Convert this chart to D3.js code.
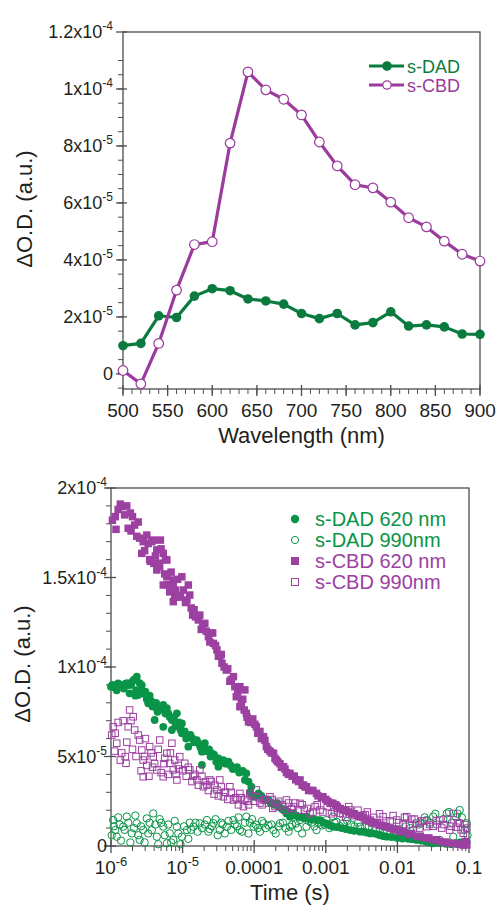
<!DOCTYPE html>
<html>
<head>
<meta charset="utf-8">
<script src="https://cdn.jsdelivr.net/npm/d3@7"></script>
<style>
  html, body { margin: 0; padding: 0; background: #fff; }
  svg { display: block; }
  text { font-family: "Liberation Sans", Arial, sans-serif; fill: #231f20; }
</style>
</head>
<body>
<svg id="chart" width="498" height="906"></svg>
<script>
// ---------------- DATA ----------------
// Top panel: transient spectra
const wavelengths = [500, 520, 540, 560, 580, 600, 620, 640, 660, 680, 700, 720, 740, 760, 780, 800, 820, 840, 860, 880, 900];
// values in units of 1e-6 (ΔO.D.)
const sDAD = [9.9, 10.7, 20.4, 19.8, 27.3, 29.9, 29.2, 26.3, 25.6, 24.5, 21.2, 19.4, 21.2, 17.2, 18.0, 21.8, 16.8, 17.2, 16.5, 14.0, 13.9];
const sCBD = [1.2, -3.5, 10.7, 29.4, 45.4, 46.4, 81.0, 106.0, 99.7, 96.4, 90.9, 81.4, 73.0, 66.4, 65.3, 60.3, 54.8, 51.6, 46.6, 42.0, 39.6];
const topSeriesNames = ["s-DAD", "s-CBD"];
const topYTicks = [0, 2e-5, 4e-5, 6e-5, 8e-5, 1e-4, 1.2e-4];
const topYTickLabels = [["0", ""], ["2x10", "-5"], ["4x10", "-5"], ["6x10", "-5"], ["8x10", "-5"], ["1x10", "-4"], ["1.2x10", "-4"]];
const topXTicks = [500, 550, 600, 650, 700, 750, 800, 850, 900];

// Bottom panel: kinetics, pairs of [log10(time / s), ΔO.D. in units of 1e-5]
const dad620 = [[-6.00,8.90],[-5.95,8.85],[-5.90,9.09],[-5.85,8.95],[-5.80,9.05],[-5.76,8.99],[-5.70,9.20],[-5.64,9.46],[-5.60,9.10],[-5.57,8.99],[-5.74,8.53],[-5.66,8.40],[-5.62,8.44],[-5.52,8.62],[-5.48,7.97],[-5.44,8.10],[-5.39,7.78],[-5.33,7.60],[-5.27,7.88],[-5.20,7.41],[-5.39,7.04],[-5.15,7.04],[-5.08,7.41],[-5.01,6.85],[-5.27,6.66],[-5.15,6.48],[-5.01,6.30],[-4.92,6.11],[-4.86,6.00],[-4.80,5.92],[-4.69,5.74],[-4.92,5.55],[-4.73,5.27],[-4.66,5.30],[-4.59,5.18],[-4.50,4.90],[-4.43,4.80],[-4.36,4.71],[-4.73,4.53],[-4.50,4.43],[-4.27,4.34],[-4.18,4.15],[-4.11,4.06],[-4.13,3.69],[-4.04,3.31],[-4.01,2.75],[-3.94,2.94],[-3.83,2.57],[-3.80,2.57],[-3.66,2.20],[-3.59,2.01],[-3.55,1.82],[-3.50,1.64],[-3.45,1.82],[-3.38,1.64],[-3.27,1.64],[-3.17,1.50],[-3.08,1.45],[-2.98,1.25],[-2.90,1.08],[-2.78,1.00],[-2.66,0.89],[-2.52,0.80],[-2.43,0.75],[-2.34,0.71],[-2.24,0.60],[-2.15,0.52],[-2.00,0.45],[-1.85,0.40],[-1.73,0.34],[-1.60,0.25],[-1.50,0.15],[-1.38,0.20],[-1.25,0.10],[-1.13,0.20],[-1.03,0.24],
  [-5.98,9.0],[-5.92,8.7],[-5.87,9.0],[-5.82,8.8],[-5.78,9.1],[-5.72,9.0],[-5.68,9.3],[-5.65,8.7],[-5.58,8.8],[-5.54,8.5],[-5.50,8.2],[-5.46,8.4],[-5.42,7.8],[-5.37,8.0],[-5.35,7.5],[-5.30,7.7],[-5.24,7.4],[-5.22,7.7],[-5.18,7.2],[-5.12,7.2],[-5.10,6.7],[-5.05,6.9],[-5.03,6.5],[-4.97,6.4],[-4.95,6.0],[-4.89,6.2],[-4.84,5.8],[-4.77,5.7],[-4.75,5.5],[-4.70,5.5],[-4.63,5.4],[-4.61,5.0],[-4.56,5.1],[-4.53,4.7],[-4.47,4.7],[-4.40,4.6],[-4.33,4.5],[-4.30,4.3],[-4.24,4.4],[-4.21,4.1],[-4.16,4.2],[-4.08,3.6],[-4.06,3.0],[-3.98,2.8],[-3.90,2.8],[-3.86,2.6],[-3.77,2.4],[-3.72,2.3],[-3.68,2.4],[-3.62,2.1],[-3.57,2.0],[-3.52,1.9],[-3.47,1.7],[-3.41,1.7],[-3.34,1.6],[-3.30,1.55],[-3.22,1.5],[-3.12,1.45],[-3.03,1.3],[-2.94,1.15],[-2.84,1.05],[-2.72,0.95],[-2.60,0.85],[-2.47,0.8],[-2.38,0.7],[-2.28,0.65],[-2.19,0.55],[-2.08,0.5],[-1.93,0.42],[-1.79,0.38],[-1.66,0.3],[-1.55,0.2],[-1.44,0.18],[-1.32,0.12],[-1.19,0.15],[-1.08,0.22]];
const dad990 = [[-5.97,1.45],[-5.94,0.89],[-5.92,0.52],[-5.83,1.08],[-5.78,1.64],[-5.71,0.71],[-5.64,1.27],[-5.60,0.34],[-5.50,1.54],[-5.41,1.82],[-5.43,0.89],[-5.36,0.52],[-5.27,1.08],[-5.22,0.15],[-5.18,0.71],[-5.13,0.34],[-5.08,1.08],[-5.01,0.52],[-4.94,0.89],[-4.85,1.08],[-4.76,1.27],[-4.66,1.45],[-4.57,1.27],[-4.48,0.89],[-4.38,1.08],[-4.29,1.45],[-4.20,0.89],[-4.11,1.64],[-4.01,1.08],[-3.87,1.27],[-3.73,0.89],[-3.64,1.27],[-3.50,1.08],[-3.36,1.45],[-3.27,1.08],[-3.13,0.89],[-2.99,1.45],[-2.90,1.64],[-2.76,1.27],[-2.52,1.08],[-2.34,1.27],[-2.15,0.71],[-1.96,0.52],[-1.78,0.89],[-1.59,1.45],[-1.50,1.64],[-1.31,1.82],[-1.13,2.01],[-1.03,1.27],[-1.22,0.52],[-1.41,0.34],[-5.88,1.20],[-5.55,0.90],[-5.30,1.30],[-4.90,1.30],[-4.62,0.95],[-4.44,1.20],[-4.24,1.10],[-4.06,1.30],[-3.95,1.00],[-3.80,1.15],[-3.56,1.00],[-3.42,1.25],[-3.20,1.30],[-3.05,1.15],[-2.85,1.35],[-2.65,1.20],[-2.45,1.05],[-2.25,1.00],[-2.05,0.85],[-1.88,1.10],[-1.68,1.30],[-1.45,1.20],[-1.18,1.60],
  [-5.99,0.6],[-5.96,1.1],[-5.90,1.6],[-5.86,0.3],[-5.81,0.9],[-5.76,1.3],[-5.73,0.2],[-5.68,1.0],[-5.66,1.7],[-5.62,0.6],[-5.58,1.1],[-5.53,0.2],[-5.48,0.7],[-5.46,1.3],[-5.38,1.2],[-5.34,0.1],[-5.32,1.5],[-5.25,0.6],[-5.20,1.2],[-5.16,0.2],[-5.11,1.4],[-5.06,0.7],[-5.03,0.1],[-4.98,1.1],[-4.92,0.4],[-4.88,0.9],[-4.82,1.3],[-4.79,0.8],[-4.73,1.0],[-4.69,1.2],[-4.64,0.8],[-4.59,1.1],[-4.54,1.5],[-4.51,0.6],[-4.46,1.3],[-4.41,0.7],[-4.36,1.4],[-4.32,0.9],[-4.27,1.2],[-4.22,1.6],[-4.17,0.8],[-4.13,1.3],[-4.08,0.7],[-4.03,1.5],[-3.98,1.2],[-3.92,0.8],[-3.89,1.4],[-3.84,1.0],[-3.76,1.2],[-3.70,0.7],[-3.66,1.1],[-3.60,1.3],[-3.52,0.8],[-3.47,1.2],[-3.39,1.0],[-3.33,0.7],[-3.24,1.4],[-3.16,1.1],[-3.10,1.3],[-3.02,1.2],[-2.95,1.0],[-2.88,1.3],[-2.80,1.1],[-2.70,1.4],[-2.60,1.1],[-2.55,1.3],[-2.40,1.1],[-2.30,0.9],[-2.20,1.1],[-2.10,0.8],[-1.98,0.9],[-1.90,0.6],[-1.82,1.0],[-1.70,1.2],[-1.62,1.6],[-1.55,1.3],[-1.47,1.8],[-1.36,1.5],[-1.28,1.9],[-1.24,1.3],[-1.16,1.8],[-1.10,1.6],[-1.06,0.9],[-1.02,0.6]];
const cbd620 = [[-5.94,18.40],[-5.93,17.69],[-5.84,18.96],[-5.76,17.75],[-5.70,18.40],[-5.67,17.93],[-5.50,17.37],[-5.41,17.09],[-5.31,17.09],[-5.57,16.35],[-5.36,16.54],[-5.27,16.35],[-5.40,15.79],[-5.22,15.98],[-5.36,15.42],[-5.22,15.04],[-5.13,14.86],[-5.01,15.04],[-5.27,14.58],[-5.13,14.49],[-4.92,14.58],[-5.11,13.93],[-5.13,13.65],[-4.94,13.74],[-4.90,14.02],[-4.78,12.63],[-4.69,12.44],[-4.64,11.69],[-4.57,11.32],[-4.52,10.95],[-4.45,10.21],[-4.39,9.83],[-4.29,9.46],[-4.20,8.90],[-4.13,8.72],[-4.25,8.34],[-4.20,7.78],[-4.11,7.41],[-4.08,6.94],[-3.97,6.66],[-3.87,6.11],[-3.83,5.55],[-3.73,5.18],[-3.69,4.80],[-3.59,4.43],[-3.50,4.06],[-3.36,3.69],[-3.27,3.31],[-3.13,2.94],[-3.04,2.75],[-2.90,2.38],[-2.76,2.01],[-2.52,1.64],[-2.34,1.27],[-2.15,1.08],[-1.96,0.80],[-1.73,0.52],[-1.50,0.34],[-1.27,0.15],[-1.03,0.06],[-5.60,17.20],[-5.46,16.00],[-5.32,15.60],[-5.18,14.20],[-5.05,14.00],[-4.84,13.20],[-4.74,12.10],[-4.60,11.90],[-4.48,10.60],[-4.34,9.20],[-4.16,8.20],[-4.02,7.10],[-3.92,6.40],[-3.78,5.30],[-3.64,4.60],[-3.55,4.10],[-3.44,3.90],[-3.31,3.40],[-3.20,3.10],[-3.00,2.60],[-2.84,2.20],[-2.64,1.80],[-2.44,1.45],[-2.25,1.15],[-2.05,0.95],[-1.84,0.65],[-1.62,0.45],[-1.40,0.25],[-1.15,0.10],
  [-5.98,18.2],[-5.90,18.8],[-5.87,19.1],[-5.81,18.5],[-5.78,19.0],[-5.73,18.6],[-5.72,17.6],[-5.64,17.3],[-5.62,18.1],[-5.55,17.0],[-5.53,16.5],[-5.48,16.9],[-5.45,15.9],[-5.43,17.0],[-5.38,16.2],[-5.34,15.8],[-5.30,16.6],[-5.25,15.2],[-5.24,16.0],[-5.20,14.6],[-5.16,15.3],[-5.10,14.3],[-5.07,14.9],[-5.03,13.9],[-4.99,14.3],[-4.96,13.6],[-4.88,13.3],[-4.86,12.9],[-4.82,12.8],[-4.76,12.9],[-4.72,12.3],[-4.67,12.0],[-4.62,11.4],[-4.58,11.9],[-4.54,11.2],[-4.50,10.6],[-4.46,10.7],[-4.42,10.0],[-4.37,9.9],[-4.32,9.3],[-4.27,8.9],[-4.23,8.6],[-4.18,8.0],[-4.14,7.6],[-4.10,7.2],[-4.05,6.9],[-3.99,6.8],[-3.95,6.3],[-3.90,6.0],[-3.85,5.9],[-3.81,5.4],[-3.76,5.2],[-3.71,4.9],[-3.67,4.7],[-3.62,4.4],[-3.57,4.3],[-3.52,4.0],[-3.47,3.9],[-3.42,3.7],[-3.38,3.6],[-3.33,3.4],[-3.29,3.3],[-3.24,3.1],[-3.18,3.1],[-3.11,2.8],[-3.06,2.7],[-2.97,2.5],[-2.93,2.4],[-2.86,2.3],[-2.80,2.1],[-2.72,2.0],[-2.68,1.9],[-2.60,1.8],[-2.56,1.7],[-2.48,1.6],[-2.40,1.4],[-2.36,1.35],[-2.30,1.25],[-2.20,1.15],[-2.10,1.0],[-2.02,0.9],[-1.92,0.8],[-1.80,0.7],[-1.68,0.55],[-1.56,0.45],[-1.45,0.35],[-1.32,0.22],[-1.20,0.15],[-1.08,0.05],[-1.05,0.25]];
const cbd990 = [[-5.97,6.66],[-5.94,6.30],[-5.92,5.74],[-5.87,4.80],[-5.80,4.99],[-5.79,4.62],[-5.74,7.60],[-5.69,7.22],[-5.67,6.48],[-5.76,6.66],[-5.60,5.92],[-5.57,5.36],[-5.55,4.80],[-5.55,3.87],[-5.46,5.55],[-5.41,4.99],[-5.36,4.25],[-5.32,5.92],[-5.27,3.87],[-5.22,5.18],[-5.18,4.62],[-5.15,5.74],[-5.13,4.25],[-5.08,3.69],[-5.04,4.99],[-4.97,4.62],[-4.90,4.25],[-4.80,3.69],[-4.76,4.25],[-4.71,3.31],[-4.62,3.69],[-4.52,3.13],[-4.48,3.69],[-4.43,2.75],[-4.34,3.31],[-4.29,2.57],[-4.20,2.94],[-4.15,2.20],[-4.06,2.94],[-3.97,3.13],[-3.87,2.57],[-3.78,2.75],[-3.69,2.38],[-3.55,2.57],[-3.45,2.20],[-3.36,2.38],[-3.22,1.82],[-3.08,2.01],[-2.94,2.38],[-2.80,1.82],[-2.66,2.01],[-2.52,1.64],[-2.38,1.45],[-2.20,1.64],[-2.01,1.45],[-1.87,1.64],[-1.73,1.27],[-1.59,1.08],[-1.41,1.45],[-1.27,0.89],[-1.13,1.27],[-1.08,0.71],[-1.22,1.82],[-5.52,6.00],[-5.42,4.40],[-5.25,4.90],[-5.05,4.30],[-4.85,3.90],[-4.66,3.40],[-4.56,2.90],[-4.40,3.00],[-4.24,2.60],[-4.10,2.50],[-3.92,2.40],[-3.74,2.10],[-3.60,2.20],[-3.30,2.00],[-3.15,2.20],[-2.88,1.90],[-2.72,1.60],[-2.45,1.75],[-2.28,1.30],[-2.10,1.40],[-1.92,1.20],[-1.80,1.50],[-1.66,1.40],[-1.50,1.10],[-1.35,1.20],[-1.18,1.05],
  [-5.99,6.2],[-5.95,5.3],[-5.90,6.9],[-5.85,5.2],[-5.83,7.0],[-5.78,5.8],[-5.72,7.0],[-5.70,5.4],[-5.65,5.0],[-5.62,6.2],[-5.58,4.2],[-5.53,5.0],[-5.50,4.5],[-5.47,3.9],[-5.44,5.2],[-5.39,4.6],[-5.34,5.4],[-5.30,4.1],[-5.26,4.6],[-5.20,4.0],[-5.17,5.2],[-5.11,4.8],[-5.09,4.0],[-5.06,4.5],[-5.00,4.2],[-4.95,3.9],[-4.92,4.4],[-4.87,3.6],[-4.83,4.0],[-4.78,3.4],[-4.73,3.9],[-4.68,3.6],[-4.64,3.1],[-4.60,3.6],[-4.55,3.4],[-4.50,2.8],[-4.46,3.3],[-4.41,3.0],[-4.37,2.6],[-4.32,3.0],[-4.26,2.7],[-4.22,2.3],[-4.18,2.7],[-4.13,2.6],[-4.08,2.3],[-4.03,2.8],[-3.99,2.5],[-3.94,2.7],[-3.89,2.3],[-3.84,2.6],[-3.80,2.4],[-3.75,2.6],[-3.71,2.2],[-3.66,2.5],[-3.61,2.3],[-3.57,2.0],[-3.52,2.4],[-3.48,2.1],[-3.43,2.4],[-3.38,2.0],[-3.33,2.3],[-3.26,2.1],[-3.18,1.9],[-3.12,2.3],[-3.04,1.9],[-2.98,2.2],[-2.92,1.8],[-2.84,2.1],[-2.76,1.8],[-2.68,2.2],[-2.60,1.7],[-2.55,2.0],[-2.48,1.7],[-2.42,1.9],[-2.33,1.6],[-2.25,1.8],[-2.16,1.4],[-2.06,1.7],[-1.98,1.3],[-1.90,1.6],[-1.83,1.2],[-1.76,1.5],[-1.69,1.0],[-1.62,1.4],[-1.55,1.2],[-1.46,1.4],[-1.38,1.0],[-1.30,1.5],[-1.25,1.1],[-1.16,1.3],[-1.11,0.9],[-1.06,1.2],[-1.03,1.0]];
const bottomSeriesNames = ["s-DAD 620 nm", "s-DAD 990nm", "s-CBD 620 nm", "s-CBD 990nm"];
const bottomYTicks = [0, 5e-5, 1e-4, 1.5e-4, 2e-4];
const bottomYTickLabels = [["0", ""], ["5x10", "-5"], ["1x10", "-4"], ["1.5x10", "-4"], ["2x10", "-4"]];
const bottomXTicks = [1e-6, 1e-5, 1e-4, 1e-3, 1e-2, 1e-1];
const bottomXTickLabels = [["10", "-6"], ["10", "-5"], ["0.0001", ""], ["0.001", ""], ["0.01", ""], ["0.1", ""]];

// ---------------- STYLE ----------------
const GREEN_TOP = "#0b7a3e", PURPLE_TOP = "#9a3b9d";
const GREEN = "#0a9447", PURPLE = "#9c40a1";
const AXIS = "#4d4d4d";

const svg = d3.select("#chart");

function supText(g, x, y, base, sup, anchor, size, supSize) {
  const t = g.append("text").attr("x", x).attr("y", y)
    .attr("text-anchor", anchor).attr("font-size", size);
  t.append("tspan").text(base);
  if (sup) {
    t.append("tspan").attr("dy", -size * 0.42).attr("font-size", supSize).text(sup);
  }
  return t;
}

// ================= TOP PANEL =================
{
  const L = 123, R = 480, T = 32, B = 389;
  const x = d3.scaleLinear().domain([500, 900]).range([L, R]);
  const y = d3.scaleLinear().domain([-5.3e-6, 1.2e-4]).range([B, T]);
  const g = svg.append("g");

  d3.range(500, 901, 10).forEach(v => {
    g.append("line").attr("x1", x(v)).attr("x2", x(v)).attr("y1", B).attr("y2", B + 5)
      .attr("stroke", AXIS).attr("stroke-width", 1);
  });
  topXTicks.forEach(v => {
    g.append("line").attr("x1", x(v)).attr("x2", x(v)).attr("y1", B - 4).attr("y2", B + 7)
      .attr("stroke", AXIS).attr("stroke-width", 1.3);
    g.append("text").attr("x", x(v)).attr("y", B + 28).attr("text-anchor", "middle")
      .attr("font-size", 19).text(v);
  });
  d3.range(0, 24).map(i => -5e-6 + i * 5e-6).filter(v => v <= 1.2e-4 + 1e-12 && v >= -5.2e-6).forEach(v => {
    g.append("line").attr("x1", L - 5).attr("x2", L).attr("y1", y(v)).attr("y2", y(v))
      .attr("stroke", AXIS).attr("stroke-width", 1);
  });
  topYTicks.forEach((v, i) => {
    g.append("line").attr("x1", L - 7).attr("x2", L + 4).attr("y1", y(v)).attr("y2", y(v))
      .attr("stroke", AXIS).attr("stroke-width", 1.3);
    supText(g, L - 10, y(v) + 6, topYTickLabels[i][0], topYTickLabels[i][1], "end", 18, 12);
  });
  g.append("rect").attr("x", L).attr("y", T).attr("width", R - L).attr("height", B - T)
    .attr("fill", "none").attr("stroke", AXIS).attr("stroke-width", 1.3);

  g.append("text").attr("x", (L + R) / 2).attr("y", 443).attr("text-anchor", "middle")
    .attr("font-size", 22).text("Wavelength (nm)");
  g.append("text").attr("transform", "translate(32,209) rotate(-90)").attr("text-anchor", "middle")
    .attr("font-size", 22).text("ΔO.D. (a.u.)");

  const line = d3.line().x(d => x(d[0])).y(d => y(d[1] * 1e-6));
  const dadData = wavelengths.map((w, i) => [w, sDAD[i]]);
  const cbdData = wavelengths.map((w, i) => [w, sCBD[i]]);

  g.append("path").datum(dadData).attr("d", line).attr("fill", "none")
    .attr("stroke", GREEN_TOP).attr("stroke-width", 3.2).attr("stroke-linejoin", "round");
  g.selectAll(".dad").data(dadData).join("circle")
    .attr("cx", d => x(d[0])).attr("cy", d => y(d[1] * 1e-6)).attr("r", 4.8).attr("fill", GREEN_TOP);

  g.append("path").datum(cbdData).attr("d", line).attr("fill", "none")
    .attr("stroke", PURPLE_TOP).attr("stroke-width", 3.2).attr("stroke-linejoin", "round");
  g.selectAll(".cbd").data(cbdData).join("circle")
    .attr("cx", d => x(d[0])).attr("cy", d => y(d[1] * 1e-6)).attr("r", 4.8)
    .attr("fill", "#fff").attr("stroke", PURPLE_TOP).attr("stroke-width", 1.2);

  const leg = [[topSeriesNames[0], GREEN_TOP, true, 66], [topSeriesNames[1], PURPLE_TOP, false, 85]];
  leg.forEach(([name, c, filled, ly]) => {
    g.append("line").attr("x1", 369).attr("x2", 404).attr("y1", ly).attr("y2", ly)
      .attr("stroke", c).attr("stroke-width", 3);
    g.append("circle").attr("cx", 387).attr("cy", ly).attr("r", 4.2)
      .attr("fill", filled ? c : "#fff").attr("stroke", c).attr("stroke-width", 1.2);
    g.append("text").attr("x", 407).attr("y", ly + 6.5).attr("font-size", 18)
      .style("fill", c).text(name);
  });
}

// ================= BOTTOM PANEL =================
{
  const L = 111, R = 469, T = 488, B = 846;
  const x = d3.scaleLog().domain([1e-6, 0.1]).range([L, R]);
  const y = d3.scaleLinear().domain([0, 2e-4]).range([B, T]);
  const g = svg.append("g");

  for (let e = -6; e < -1; e++) {
    for (let m = 2; m <= 9; m++) {
      const v = m * Math.pow(10, e);
      g.append("line").attr("x1", x(v)).attr("x2", x(v)).attr("y1", B).attr("y2", B + 5)
        .attr("stroke", AXIS).attr("stroke-width", 1);
    }
  }
  bottomXTicks.forEach((v, i) => {
    g.append("line").attr("x1", x(v)).attr("x2", x(v)).attr("y1", B - 6).attr("y2", B + 7)
      .attr("stroke", AXIS).attr("stroke-width", 1.3);
    supText(g, x(v), B + 28, bottomXTickLabels[i][0], bottomXTickLabels[i][1], "middle", 19, 13);
  });
  d3.range(0, 21).map(i => i * 1e-5).forEach(v => {
    g.append("line").attr("x1", L - 5).attr("x2", L).attr("y1", y(v)).attr("y2", y(v))
      .attr("stroke", AXIS).attr("stroke-width", 1);
  });
  bottomYTicks.forEach((v, i) => {
    g.append("line").attr("x1", L - 7).attr("x2", L + 5).attr("y1", y(v)).attr("y2", y(v))
      .attr("stroke", AXIS).attr("stroke-width", 1.3);
    supText(g, L - 4, y(v) + 6, bottomYTickLabels[i][0], bottomYTickLabels[i][1], "end", 18, 12);
  });
  g.append("rect").attr("x", L).attr("y", T).attr("width", R - L).attr("height", B - T)
    .attr("fill", "none").attr("stroke", AXIS).attr("stroke-width", 1.3);

  g.append("text").attr("x", (L + R) / 2).attr("y", 900).attr("text-anchor", "middle")
    .attr("font-size", 22).text("Time (s)");
  g.append("text").attr("transform", "translate(30,664) rotate(-90)").attr("text-anchor", "middle")
    .attr("font-size", 22).text("ΔO.D. (a.u.)");

  const px = d => x(Math.pow(10, d[0]));
  const py = d => y(d[1] * 1e-5);

  g.selectAll(".d620").data(dad620).join("circle")
    .attr("cx", px).attr("cy", py).attr("r", 3.9).attr("fill", GREEN);
  g.selectAll(".d990").data(dad990).join("circle")
    .attr("cx", px).attr("cy", py).attr("r", 3.7).attr("fill", "none")
    .attr("stroke", GREEN).attr("stroke-width", 1);
  const s1 = 7.5;
  g.selectAll(".c620").data(cbd620).join("rect")
    .attr("x", d => px(d) - s1 / 2).attr("y", d => py(d) - s1 / 2)
    .attr("width", s1).attr("height", s1).attr("fill", PURPLE);
  const s2 = 6.5;
  g.selectAll(".c990").data(cbd990).join("rect")
    .attr("x", d => px(d) - s2 / 2).attr("y", d => py(d) - s2 / 2)
    .attr("width", s2).attr("height", s2).attr("fill", "none")
    .attr("stroke", PURPLE).attr("stroke-width", 1);

  const rows = [519, 540, 561, 582];
  const cols = [GREEN, GREEN, PURPLE, PURPLE];
  bottomSeriesNames.forEach((name, i) => {
    const ly = rows[i], c = cols[i], mx = 295;
    if (i === 0) g.append("circle").attr("cx", mx).attr("cy", ly).attr("r", 4.2).attr("fill", c);
    if (i === 1) g.append("circle").attr("cx", mx).attr("cy", ly).attr("r", 3.6).attr("fill", "none").attr("stroke", c);
    if (i === 2) g.append("rect").attr("x", mx - 4).attr("y", ly - 4).attr("width", 8).attr("height", 8).attr("fill", c);
    if (i === 3) g.append("rect").attr("x", mx - 3.5).attr("y", ly - 3.5).attr("width", 7).attr("height", 7).attr("fill", "none").attr("stroke", c);
    g.append("text").attr("x", 315).attr("y", ly + 7).attr("font-size", 20).style("fill", c).text(name);
  });
}
</script>
</body>
</html>
